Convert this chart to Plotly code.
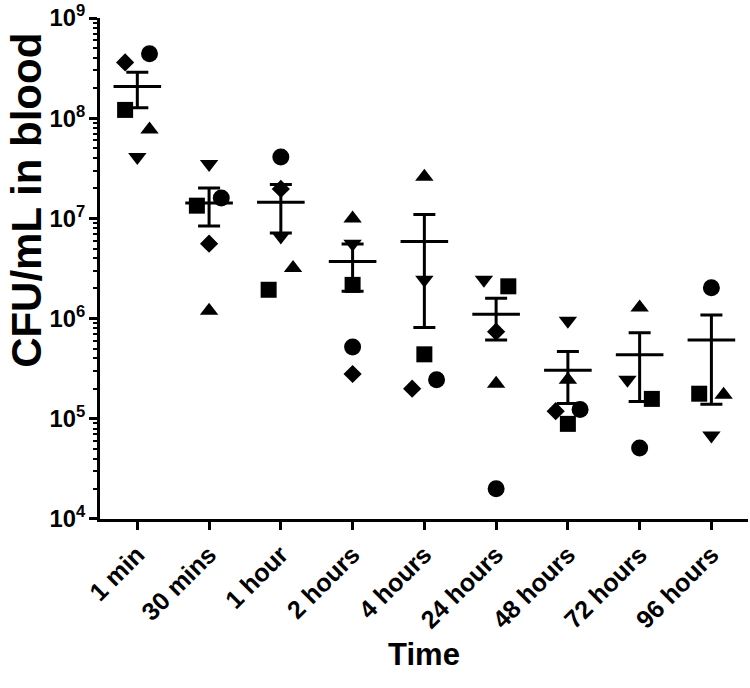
import numpy as np
import plotly.graph_objects as go

CATEGORIES = ["1 min", "30 mins", "1 hour", "2 hours", "4 hours",
              "24 hours", "48 hours", "72 hours", "96 hours"]

CIRCLE   = [4.4e8, 1.6e7, 4.1e7, 5.2e5, 2.45e5, 2.0e4, 1.24e5, 5.1e4, 2.03e6]
SQUARE   = [1.21e8, 1.34e7, 1.94e6, 2.17e6, 4.4e5, 2.1e6, 8.9e4, 1.58e5, 1.78e5]
TRI_UP   = [7.7e7, 1.2e6, 3.2e6, 1.0e7, 2.6e7, 2.24e5, 2.45e5, 1.29e6, 1.74e5]
TRI_DOWN = [4.1e7, 3.5e7, 6.6e6, 5.6e6, 2.44e6, 2.44e6, 9.5e5, 2.45e5, 6.8e4]
DIAMOND  = [3.6e8, 5.6e6, 1.97e7, 2.8e5, 2.0e5, 7.4e5, 1.19e5, None, None]

# horizontal scatter offsets (category units), style only
J = 0.17
JITTER = {
    "circle":        [J, J, 0, 0, J, 0, J, 0, 0],
    "square":        [-J, -J, -J, 0, 0, J, 0, J, -J],
    "triangle-up":   [J, 0, J, 0, 0, 0, 0, 0, J],
    "triangle-down": [0, 0, 0, 0, 0, -J, 0, -J, 0],
    "diamond":       [-J, 0, 0, 0, -J, 0, -J, 0, 0],
}

series = [("circle", CIRCLE, 17), ("square", SQUARE, 16),
          ("triangle-up", TRI_UP, 16), ("triangle-down", TRI_DOWN, 16),
          ("diamond", DIAMOND, 14)]

xi = np.arange(len(CATEGORIES))
fig = go.Figure()
for sym, vals, size in series:
    fig.add_trace(go.Scatter(
        x=xi + np.array(JITTER[sym]),
        y=vals, mode="markers",
        marker=dict(symbol=sym, size=size, color="black", line=dict(width=0)),
        showlegend=False, hoverinfo="skip"))

data = np.array([[np.nan if v is None else v for v in s[1]] for s in series], dtype=float)
n = np.sum(~np.isnan(data), axis=0)
means = np.nanmean(data, axis=0)
sems = np.nanstd(data, axis=0, ddof=1) / np.sqrt(n)

fig.add_trace(go.Scatter(
    x=xi, y=means, mode="markers",
    marker=dict(symbol="line-ew", size=34, color="black",
                line=dict(width=3, color="black")),
    error_y=dict(type="data", array=sems, arrayminus=sems, symmetric=False,
                 color="black", thickness=3, width=11),
    showlegend=False, hoverinfo="skip"))

FONT = "Liberation Sans, Arial, sans-serif"
fig.update_layout(
    width=750, height=688,
    margin=dict(l=100, r=2, t=18, b=169),
    plot_bgcolor="white", paper_bgcolor="white",
    font=dict(family=FONT, color="black"),
    xaxis=dict(
        range=[-0.52, 8.51], tickvals=list(xi), ticktext=CATEGORIES,
        tickangle=-45, showline=True, linewidth=3, linecolor="black",
        ticks="outside", ticklen=8, tickwidth=2.5, tickcolor="black",
        showgrid=False, zeroline=False, automargin=False,
        ticklabeloverflow="allow",
        tickfont=dict(family=FONT, size=25, weight="bold"),
        title=dict(text="Time", font=dict(family=FONT, size=31, weight="bold"),
                   standoff=11),
    ),
    yaxis=dict(
        type="log", range=[3.9999, 9.0001], dtick=1, exponentformat="power",
        showline=True, linewidth=3, linecolor="black",
        ticks="outside", ticklen=8, tickwidth=2.5, tickcolor="black",
        minor=dict(ticks="outside", ticklen=4, tickwidth=1.5, tickcolor="black",
                   dtick="D1", showgrid=False),
        showgrid=False, zeroline=False, automargin=False,
        ticklabeloverflow="allow",
        tickfont=dict(family=FONT, size=19, weight="bold"),
    ),
    annotations=[dict(
        text="CFU/mL in blood", textangle=-90, showarrow=False,
        xref="paper", yref="paper", x=0, y=0.635,
        xanchor="center", yanchor="middle", xshift=-73,
        font=dict(family=FONT, size=42, weight="bold", color="black"),
    )],
)

fig.write_html("out.html", config={"displayModeBar": False},
               post_script="document.body.style.margin='0';")
